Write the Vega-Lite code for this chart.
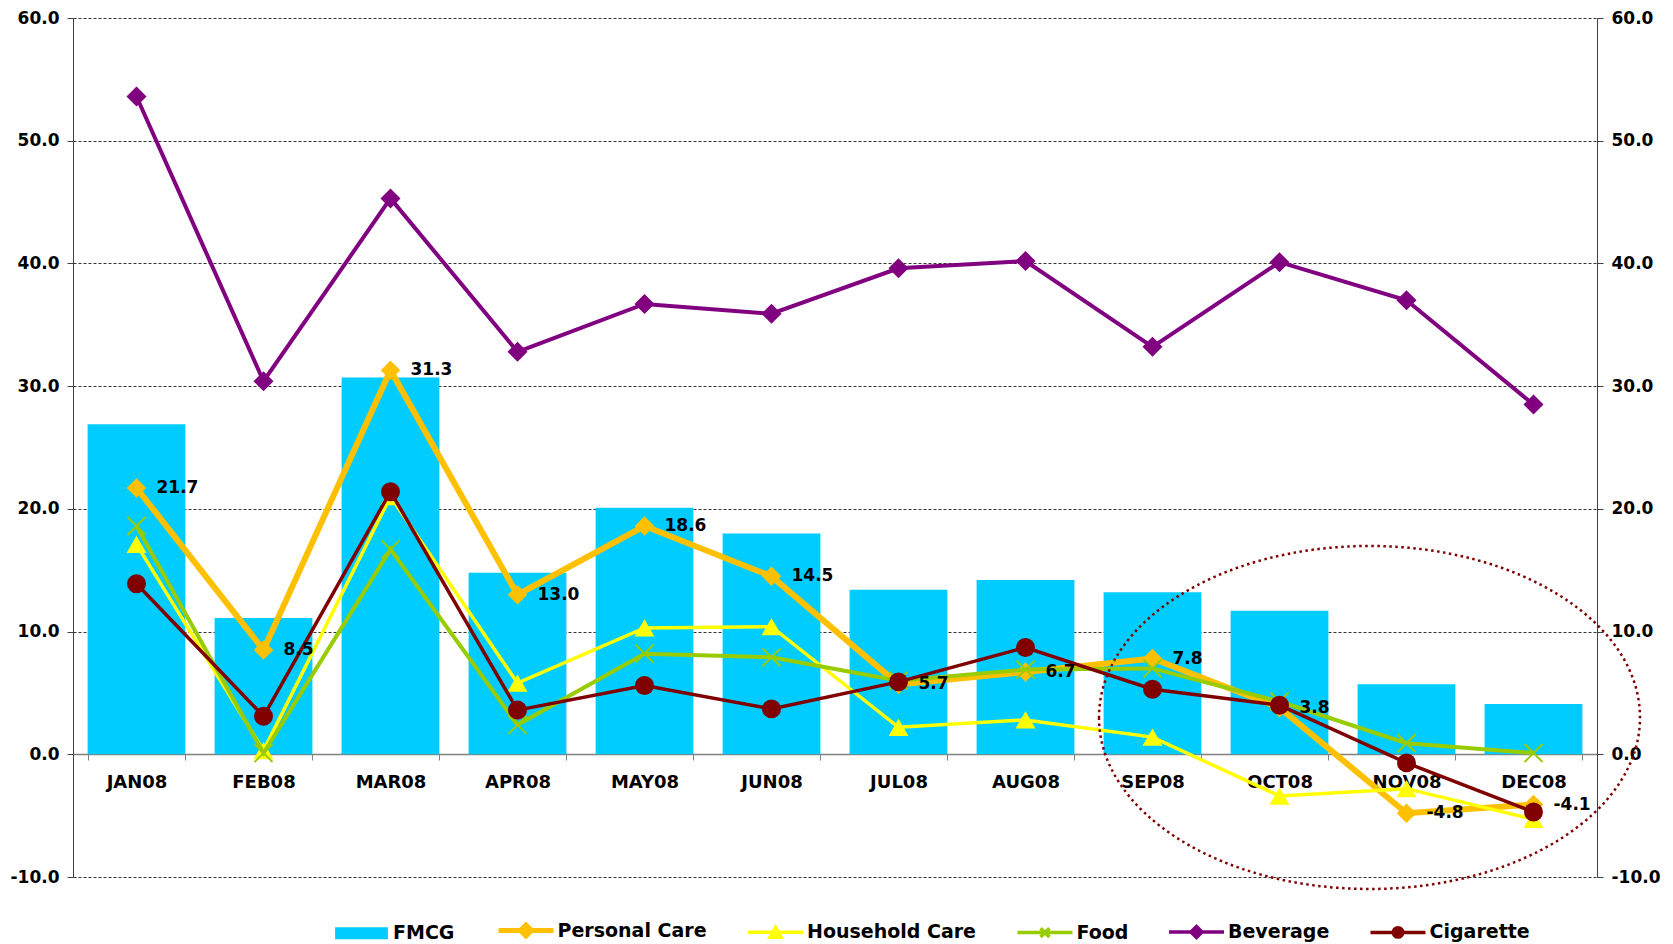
{
  "$schema": "https://vega.github.io/schema/vega-lite/v6.json",
  "width": 1524,
  "height": 859,
  "autosize": {"type": "none"},
  "padding": {"left": 73, "top": 18, "right": 76, "bottom": 67},
  "background": "white",
  "config": {
    "view": {"stroke": null},
    "font": "DejaVu Sans",
    "locale": {"number": {"decimal": ".", "thousands": ",", "grouping": [3], "currency": ["$", ""], "minus": "-"}},
    "axis": {"labelFont": "DejaVu Sans", "labelFontWeight": "bold", "labelColor": "#000", "title": null}
  },
  "data": {"values": [
    {"month": "JAN08", "series": "FMCG", "value": 26.9},
    {"month": "FEB08", "series": "FMCG", "value": 11.1},
    {"month": "MAR08", "series": "FMCG", "value": 30.7},
    {"month": "APR08", "series": "FMCG", "value": 14.8},
    {"month": "MAY08", "series": "FMCG", "value": 20.1},
    {"month": "JUN08", "series": "FMCG", "value": 18.0},
    {"month": "JUL08", "series": "FMCG", "value": 13.4},
    {"month": "AUG08", "series": "FMCG", "value": 14.2},
    {"month": "SEP08", "series": "FMCG", "value": 13.2},
    {"month": "OCT08", "series": "FMCG", "value": 11.7},
    {"month": "NOV08", "series": "FMCG", "value": 5.7},
    {"month": "DEC08", "series": "FMCG", "value": 4.1},
    {"month": "JAN08", "series": "Personal Care", "value": 21.7},
    {"month": "FEB08", "series": "Personal Care", "value": 8.5},
    {"month": "MAR08", "series": "Personal Care", "value": 31.3},
    {"month": "APR08", "series": "Personal Care", "value": 13.0},
    {"month": "MAY08", "series": "Personal Care", "value": 18.6},
    {"month": "JUN08", "series": "Personal Care", "value": 14.5},
    {"month": "JUL08", "series": "Personal Care", "value": 5.7},
    {"month": "AUG08", "series": "Personal Care", "value": 6.7},
    {"month": "SEP08", "series": "Personal Care", "value": 7.8},
    {"month": "OCT08", "series": "Personal Care", "value": 3.8},
    {"month": "NOV08", "series": "Personal Care", "value": -4.8},
    {"month": "DEC08", "series": "Personal Care", "value": -4.1},
    {"month": "JAN08", "series": "Household Care", "value": 17.1},
    {"month": "FEB08", "series": "Household Care", "value": 0.3},
    {"month": "MAR08", "series": "Household Care", "value": 21.0},
    {"month": "APR08", "series": "Household Care", "value": 5.8},
    {"month": "MAY08", "series": "Household Care", "value": 10.3},
    {"month": "JUN08", "series": "Household Care", "value": 10.4},
    {"month": "JUL08", "series": "Household Care", "value": 2.2},
    {"month": "AUG08", "series": "Household Care", "value": 2.8},
    {"month": "SEP08", "series": "Household Care", "value": 1.4},
    {"month": "OCT08", "series": "Household Care", "value": -3.4},
    {"month": "NOV08", "series": "Household Care", "value": -2.8},
    {"month": "DEC08", "series": "Household Care", "value": -5.3},
    {"month": "JAN08", "series": "Food", "value": 18.6},
    {"month": "FEB08", "series": "Food", "value": 0.1},
    {"month": "MAR08", "series": "Food", "value": 16.7},
    {"month": "APR08", "series": "Food", "value": 2.4},
    {"month": "MAY08", "series": "Food", "value": 8.2},
    {"month": "JUN08", "series": "Food", "value": 7.9},
    {"month": "JUL08", "series": "Food", "value": 6.0},
    {"month": "AUG08", "series": "Food", "value": 6.9},
    {"month": "SEP08", "series": "Food", "value": 7.0},
    {"month": "OCT08", "series": "Food", "value": 4.3},
    {"month": "NOV08", "series": "Food", "value": 0.9},
    {"month": "DEC08", "series": "Food", "value": 0.1},
    {"month": "JAN08", "series": "Beverage", "value": 53.6},
    {"month": "FEB08", "series": "Beverage", "value": 30.4},
    {"month": "MAR08", "series": "Beverage", "value": 45.3},
    {"month": "APR08", "series": "Beverage", "value": 32.8},
    {"month": "MAY08", "series": "Beverage", "value": 36.7},
    {"month": "JUN08", "series": "Beverage", "value": 35.9},
    {"month": "JUL08", "series": "Beverage", "value": 39.6},
    {"month": "AUG08", "series": "Beverage", "value": 40.2},
    {"month": "SEP08", "series": "Beverage", "value": 33.2},
    {"month": "OCT08", "series": "Beverage", "value": 40.1},
    {"month": "NOV08", "series": "Beverage", "value": 37.0},
    {"month": "DEC08", "series": "Beverage", "value": 28.5},
    {"month": "JAN08", "series": "Cigarette", "value": 13.9},
    {"month": "FEB08", "series": "Cigarette", "value": 3.1},
    {"month": "MAR08", "series": "Cigarette", "value": 21.4},
    {"month": "APR08", "series": "Cigarette", "value": 3.6},
    {"month": "MAY08", "series": "Cigarette", "value": 5.6},
    {"month": "JUN08", "series": "Cigarette", "value": 3.7},
    {"month": "JUL08", "series": "Cigarette", "value": 5.9},
    {"month": "AUG08", "series": "Cigarette", "value": 8.7},
    {"month": "SEP08", "series": "Cigarette", "value": 5.3},
    {"month": "OCT08", "series": "Cigarette", "value": 4.0},
    {"month": "NOV08", "series": "Cigarette", "value": -0.7},
    {"month": "DEC08", "series": "Cigarette", "value": -4.7}
  ]},
  "encoding": {
    "x": {
      "field": "month", "type": "nominal",
      "scale": {"domain": ["JAN08","FEB08","MAR08","APR08","MAY08","JUN08","JUL08","AUG08","SEP08","OCT08","NOV08","DEC08"], "paddingInner": 0.23, "paddingOuter": 0.115},
      "axis": {"orient": "bottom", "offset": -123, "labelAngle": 0, "labelFontSize": 18, "labelPadding": 13, "tickBand": "extent", "tickSize": 6, "tickColor": "#808080", "domainColor": "#808080", "domainWidth": 1.5, "grid": false, "title": null}
    }
  },
  "layer": [
    {
      "transform": [{"filter": "datum.series === 'FMCG'"}],
      "mark": {"type": "bar"},
      "encoding": {
        "y": {"field": "value", "type": "quantitative", "scale": {"domain": [-10, 60], "nice": false, "zero": false},
          "axis": {"orient": "left", "values": [-10,0,10,20,30,40,50,60], "format": ".1f", "labelFontSize": 17, "labelPadding": 8, "tickSize": 6, "tickColor": "#404040", "domainColor": "#404040", "grid": true, "gridColor": "#333", "gridDash": [3, 2], "gridWidth": 1, "title": null}},
        "color": {"field": "series", "type": "nominal",
          "scale": {"domain": ["FMCG","Personal Care","Household Care","Food","Beverage","Cigarette"], "range": ["#00CCFF","#FFC000","#FFFF00","#99CC00","#800080","#800000"]},
          "legend": {
            "orient": "none", "legendX": 279, "legendY": 903, "direction": "horizontal", "title": null,
            "labelFont": "DejaVu Sans", "labelFontWeight": "bold", "labelFontSize": 19, "labelColor": "#000", "labelLimit": 300,
            "symbolSize": 3025, "labelOffset": 22, "columnPadding": 33.5, "padding": 0,
            "encode": {"symbols": {"update": {
              "shape": {"signal": "datum.value === 'FMCG' ? 'M-0.96,-0.22H0.96V0.22H-0.96Z' : (datum.value === 'Personal Care' || datum.value === 'Beverage') ? 'M-1,0H1M-0.2,0L0,-0.2L0.2,0L0,0.2Z' : datum.value === 'Household Care' ? 'M-1,0H1M-0.2,0.18L0,-0.18L0.2,0.18Z' : datum.value === 'Food' ? 'M-1,0H1M-0.16,-0.16L0.16,0.16M-0.16,0.16L0.16,-0.16' : 'M-1,0H1M-0.17,0A0.17,0.17 0 1,0 0.17,0A0.17,0.17 0 1,0 -0.17,0Z'"},
              "strokeWidth": {"signal": "datum.value === 'FMCG' ? 0 : datum.value === 'Personal Care' ? 5 : 3.5"},
              "fill": {"signal": "datum.value === 'Food' ? 'transparent' : scale('color', datum.value)"},
              "stroke": {"signal": "scale('color', datum.value)"},
              "opacity": {"value": 1}, "fillOpacity": {"value": 1}, "strokeOpacity": {"value": 1}
            }}}
          }
        }
      }
    },
    {
      "transform": [{"filter": "datum.series === 'Personal Care'"}],
      "mark": {"type": "line", "strokeWidth": 6, "point": {"shape": "diamond", "size": 380, "filled": true, "opacity": 1}},
      "encoding": {
        "y": {"field": "value", "type": "quantitative", "scale": {"domain": [-10, 60], "nice": false, "zero": false}, "axis": null},
        "color": {"field": "series", "type": "nominal", "scale": {"domain": ["FMCG","Personal Care","Household Care","Food","Beverage","Cigarette"], "range": ["#00CCFF","#FFC000","#FFFF00","#99CC00","#800080","#800000"]}}
      }
    },
    {
      "transform": [{"filter": "datum.series === 'Household Care'"}],
      "mark": {"type": "line", "strokeWidth": 3.5, "point": {"shape": "triangle-up", "size": 400, "filled": true, "opacity": 1}},
      "encoding": {
        "y": {"field": "value", "type": "quantitative", "scale": {"domain": [-10, 60], "nice": false, "zero": false}, "axis": null},
        "color": {"field": "series", "type": "nominal", "scale": {"domain": ["FMCG","Personal Care","Household Care","Food","Beverage","Cigarette"], "range": ["#00CCFF","#FFC000","#FFFF00","#99CC00","#800080","#800000"]}}
      }
    },
    {
      "transform": [{"filter": "datum.series === 'Food'"}],
      "mark": {"type": "line", "strokeWidth": 4, "point": {"shape": "M-1,-1L1,1M-1,1L1,-1", "size": 324, "filled": false, "strokeWidth": 2, "opacity": 1}},
      "encoding": {
        "y": {"field": "value", "type": "quantitative", "scale": {"domain": [-10, 60], "nice": false, "zero": false}, "axis": null},
        "color": {"field": "series", "type": "nominal", "scale": {"domain": ["FMCG","Personal Care","Household Care","Food","Beverage","Cigarette"], "range": ["#00CCFF","#FFC000","#FFFF00","#99CC00","#800080","#800000"]}}
      }
    },
    {
      "transform": [{"filter": "datum.series === 'Beverage'"}],
      "mark": {"type": "line", "strokeWidth": 4, "point": {"shape": "diamond", "size": 400, "filled": true, "opacity": 1}},
      "encoding": {
        "y": {"field": "value", "type": "quantitative", "scale": {"domain": [-10, 60], "nice": false, "zero": false},
          "axis": {"orient": "right", "values": [-10,0,10,20,30,40,50,60], "format": ".1f", "labelFontSize": 17, "labelPadding": 8, "tickSize": 6, "tickColor": "#404040", "domainColor": "#404040", "grid": false, "title": null}},
        "color": {"field": "series", "type": "nominal", "scale": {"domain": ["FMCG","Personal Care","Household Care","Food","Beverage","Cigarette"], "range": ["#00CCFF","#FFC000","#FFFF00","#99CC00","#800080","#800000"]}}
      }
    },
    {
      "transform": [{"filter": "datum.series === 'Cigarette'"}],
      "mark": {"type": "line", "strokeWidth": 3.5, "point": {"shape": "circle", "size": 360, "filled": true, "opacity": 1}},
      "encoding": {
        "y": {"field": "value", "type": "quantitative", "scale": {"domain": [-10, 60], "nice": false, "zero": false}, "axis": null},
        "color": {"field": "series", "type": "nominal", "scale": {"domain": ["FMCG","Personal Care","Household Care","Food","Beverage","Cigarette"], "range": ["#00CCFF","#FFC000","#FFFF00","#99CC00","#800080","#800000"]}}
      }
    },
    {
      "transform": [{"filter": "datum.series === 'Personal Care'"}],
      "mark": {"type": "text", "align": "left", "baseline": "middle", "dx": 20, "font": "DejaVu Sans", "fontWeight": "bold", "fontSize": 17, "color": "#000"},
      "encoding": {
        "y": {"field": "value", "type": "quantitative", "scale": {"domain": [-10, 60], "nice": false, "zero": false}, "axis": null},
        "text": {"field": "value", "type": "quantitative", "format": ".1f"}
      }
    },
    {
      "data": {"values": [{"month": "NOV08", "value": 3.0}]},
      "mark": {"type": "point", "shape": "M-2.705,0A2.705,1.715 0 1,0 2.705,0A2.705,1.715 0 1,0 -2.705,0Z", "size": 40000, "filled": false, "stroke": "#800000", "strokeWidth": 2.5, "strokeDash": [2.5, 3.5], "opacity": 1, "xOffset": -37},
      "encoding": {
        "y": {"field": "value", "type": "quantitative", "scale": {"domain": [-10, 60], "nice": false, "zero": false}, "axis": null}
      }
    }
  ],
  "resolve": {"scale": {"y": "shared"}, "axis": {"y": "independent"}}
}
